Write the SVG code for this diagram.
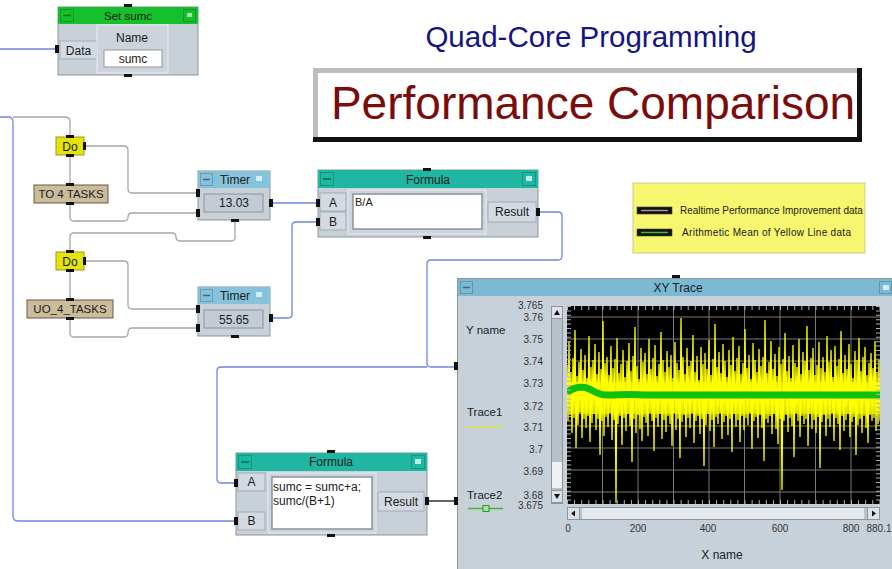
<svg xmlns="http://www.w3.org/2000/svg" width="892" height="569" viewBox="0 0 892 569">
<defs>
<style>
.t{font-family:"Liberation Sans",Arial,sans-serif;fill:#1b1b1b}
.s12{font-size:12px}
.s11{font-size:11.5px}
.mid{text-anchor:middle}
.body{fill:#c8d0d8;stroke:#8d969f;stroke-width:1}
.lbl{fill:#d3dae1;stroke:#9aa4ad;stroke-width:0.8}
.wire{fill:none;stroke:#6e86e2;stroke-width:1.3}
.ctl{fill:none;stroke:#a6a6a6;stroke-width:1.3}
.blk{fill:none;stroke:#111;stroke-width:1.3}
.port{fill:#111}
.btn{fill:none;stroke:rgba(0,0,0,0.2);stroke-width:1}
.grid{stroke:#7a7a7a;stroke-width:1}
.ax{font-family:"Liberation Sans",Arial,sans-serif;font-size:10px;fill:#333;text-anchor:end}
.axm{font-family:"Liberation Sans",Arial,sans-serif;font-size:10px;fill:#333;text-anchor:middle}
.ttl-timer{fill:#86c3db}
.ttl-form{fill:#1fb7a2}
.disp{fill:#c3ccd5;stroke:#8a949e;stroke-width:1}
.area{fill:#fff;stroke:#8a949e;stroke-width:1.5}
</style>
<clipPath id="plot"><rect x="567" y="306" width="313" height="198"/></clipPath>
</defs>
<rect x="0" y="0" width="892" height="569" fill="#ffffff"/>

<!-- Titles -->
<text x="591" y="47" font-family="Liberation Sans, Arial, sans-serif" font-size="29.5" fill="#141482" text-anchor="middle">Quad-Core Programming</text>
<g id="title-box">
<rect x="313" y="68" width="549" height="74" fill="#ffffff"/>
<rect x="313" y="68" width="549" height="5" fill="#bdbdbd"/>
<rect x="313" y="68" width="5" height="74" fill="#bdbdbd"/>
<rect x="313" y="137" width="549" height="5" fill="#111"/>
<rect x="857" y="68" width="5" height="74" fill="#111"/>
<text x="593" y="119" font-family="Liberation Sans, Arial, sans-serif" font-size="46" fill="#7a0c0c" text-anchor="middle">Performance Comparison</text>
</g>

<!-- Connectors -->
<g id="connectors">
<path class="wire" d="M0,49 H58"/>
<path class="wire" d="M0,117 H8 Q13,117 13,122 V516 Q13,521 18,521 H236"/>
<path class="ctl" d="M13,117 H65 Q70,117 70,122 V137"/>
<path class="ctl" d="M84,146 H124 Q128,146 128,150 V189 Q128,193 132,193 H198"/>
<path class="ctl" d="M70,156 V185"/>
<path class="ctl" d="M70,203 V217 Q70,221 74,221 H124 Q128,221 128,217 Q128,213 132,213 H198"/>
<path class="ctl" d="M235,220 V237 Q235,241 231,241 H180 Q176,241 176,237 Q176,233 172,233 H74 Q70,233 70,237 V252"/>
<path class="ctl" d="M84,261 H124 Q128,261 128,265 V305 Q128,309 132,309 H198"/>
<path class="ctl" d="M70,270 V300"/>
<path class="ctl" d="M70,318 V333 Q70,337 74,337 H124 Q128,337 128,333 Q128,328 132,328 H198"/>
<path class="wire" d="M271,203 H318"/>
<path class="wire" d="M271,318 H288 Q292,318 292,314 V226 Q292,222 296,222 H318"/>
<path class="wire" d="M538,212 H558 Q562,212 562,216 V256 Q562,260 558,260 H431 Q427,260 427,264 V363 Q427,367 431,367 H457"/>
<path class="wire" d="M427,367 H221 Q217,367 217,371 V479 Q217,483 221,483 H236"/>
<path class="blk" d="M427,501 H457"/>
</g>

<!-- Set sumc -->
<g id="set-sumc">
<rect class="body" x="58" y="7" width="140" height="68"/>
<rect x="58" y="7" width="140" height="17" fill="#16c02c"/>
<rect class="btn" x="60.5" y="9.5" width="13" height="12"/>
<line x1="63" y1="15.5" x2="71" y2="15.5" stroke="#0a7a18" stroke-width="1.5"/>
<rect class="btn" x="183.5" y="9.5" width="12" height="12"/>
<rect x="187" y="13" width="5" height="4" fill="#9fe3a8"/>
<text class="t s11 mid" x="128" y="20" fill="#123a12">Set sumc</text>
<rect class="lbl" x="60" y="41" width="37" height="18"/>
<text class="t s12 mid" x="78.5" y="54.5">Data</text>
<rect x="97" y="25" width="71" height="48" fill="#ccd3da" stroke="#eaeef2"/>
<text class="t s12 mid" x="132" y="42">Name</text>
<rect x="104" y="50" width="58" height="17" fill="#fff" stroke="#8f98a0"/>
<text class="t s12 mid" x="133" y="63">sumc</text>
<rect class="port" x="55" y="45" width="4" height="8"/>
<rect class="port" x="124" y="4" width="8" height="3"/>
<rect class="port" x="124" y="74" width="8" height="3"/>
</g>

<!-- Do 1 -->
<g id="do-1">
<rect x="56" y="137" width="28" height="18" fill="#e4e40a" stroke="#9a9a20"/>
<text class="t s12 mid" x="70" y="151">Do</text>
<rect class="port" x="66" y="135" width="8" height="3"/>
<rect class="port" x="66" y="154" width="8" height="3"/>
<rect class="port" x="83" y="142" width="3" height="8"/>
</g>
<g id="to-4-tasks">
<rect x="34" y="185" width="74" height="18" fill="#cbbc9c" stroke="#6a5a40"/>
<text class="t s11 mid" x="71" y="198">TO 4 TASKS</text>
<rect class="port" x="66" y="183" width="8" height="3"/>
<rect class="port" x="66" y="202" width="8" height="3"/>
</g>
<!-- Do 2 -->
<g id="do-2">
<rect x="56" y="252" width="28" height="18" fill="#e4e40a" stroke="#9a9a20"/>
<text class="t s12 mid" x="70" y="266">Do</text>
<rect class="port" x="66" y="250" width="8" height="3"/>
<rect class="port" x="66" y="269" width="8" height="3"/>
<rect class="port" x="83" y="257" width="3" height="8"/>
</g>
<g id="uo-4-tasks">
<rect x="27" y="300" width="86" height="18" fill="#cbbc9c" stroke="#6a5a40"/>
<text class="t s11 mid" x="70" y="313">UO_4_TASKS</text>
<rect class="port" x="66" y="298" width="8" height="3"/>
<rect class="port" x="66" y="317" width="8" height="3"/>
</g>

<!-- Timer 1 -->
<g id="timer-1">
<rect class="body" x="198" y="171" width="72" height="49"/>
<rect class="ttl-timer" x="198" y="171" width="72" height="17"/>
<rect class="btn" x="200.5" y="173.5" width="12" height="12"/>
<line x1="203" y1="179.5" x2="210" y2="179.5" stroke="#3a6a80" stroke-width="1.5"/>
<rect x="256" y="176" width="6" height="5" fill="#d6ecf5"/>
<text class="t s12 mid" x="235" y="184">Timer</text>
<rect class="disp" x="204" y="194" width="59" height="18"/>
<text class="t s12 mid" x="234" y="207">13.03</text>
<rect class="port" x="196" y="189" width="4" height="8"/>
<rect class="port" x="196" y="209" width="4" height="8"/>
<rect class="port" x="269" y="199" width="4" height="8"/>
<rect class="port" x="231" y="219" width="8" height="3"/>
</g>
<!-- Timer 2 -->
<g id="timer-2">
<rect class="body" x="198" y="287" width="72" height="49"/>
<rect class="ttl-timer" x="198" y="287" width="72" height="17"/>
<rect class="btn" x="200.5" y="289.5" width="12" height="12"/>
<line x1="203" y1="295.5" x2="210" y2="295.5" stroke="#3a6a80" stroke-width="1.5"/>
<rect x="256" y="292" width="6" height="5" fill="#d6ecf5"/>
<text class="t s12 mid" x="235" y="300">Timer</text>
<rect class="disp" x="204" y="310" width="59" height="18"/>
<text class="t s12 mid" x="234" y="324">55.65</text>
<rect class="port" x="196" y="305" width="4" height="8"/>
<rect class="port" x="196" y="324" width="4" height="8"/>
<rect class="port" x="269" y="314" width="4" height="8"/>
<rect class="port" x="231" y="335" width="8" height="3"/>
</g>

<!-- Formula 1 -->
<g id="formula-1">
<rect class="body" x="318" y="170" width="220" height="67"/>
<rect class="ttl-form" x="318" y="170" width="220" height="18"/>
<rect class="btn" x="320.5" y="172.5" width="13" height="13"/>
<line x1="323" y1="179" x2="331" y2="179" stroke="#0e6a5c" stroke-width="1.5"/>
<rect class="btn" x="522.5" y="172.5" width="13" height="13"/>
<rect x="526" y="176" width="6" height="5" fill="#bfeee6"/>
<text class="t s12 mid" x="428" y="184">Formula</text>
<rect class="lbl" x="320" y="193" width="26" height="18"/>
<text class="t s12 mid" x="333" y="207">A</text>
<rect class="lbl" x="320" y="212" width="26" height="18"/>
<text class="t s12 mid" x="333" y="226">B</text>
<rect x="348" y="190" width="138" height="44" fill="#cdd4db" stroke="#e6ebef"/>
<rect class="area" x="353" y="194" width="129" height="35"/>
<text class="t" font-size="11" x="355" y="206">B/A</text>
<rect class="lbl" x="488" y="202" width="48" height="20"/>
<text class="t s12 mid" x="512" y="216">Result</text>
<rect class="port" x="316" y="199" width="4" height="8"/>
<rect class="port" x="316" y="218" width="4" height="8"/>
<rect class="port" x="536" y="208" width="4" height="8"/>
<rect class="port" x="423" y="168" width="8" height="3"/>
<rect class="port" x="423" y="236" width="8" height="3"/>
</g>

<!-- Formula 2 -->
<g id="formula-2">
<rect class="body" x="236" y="453" width="191" height="82"/>
<rect class="ttl-form" x="236" y="453" width="191" height="18"/>
<rect class="btn" x="238.5" y="455.5" width="13" height="13"/>
<line x1="241" y1="462" x2="249" y2="462" stroke="#0e6a5c" stroke-width="1.5"/>
<rect class="btn" x="411.5" y="455.5" width="13" height="13"/>
<rect x="415" y="459" width="6" height="5" fill="#bfeee6"/>
<text class="t s12 mid" x="331" y="466">Formula</text>
<rect class="lbl" x="238" y="473" width="27" height="18"/>
<text class="t s12 mid" x="251.5" y="486">A</text>
<rect class="lbl" x="238" y="512" width="27" height="18"/>
<text class="t s12 mid" x="251.5" y="525">B</text>
<rect x="268" y="473" width="108" height="60" fill="#cdd4db" stroke="#e6ebef"/>
<rect class="area" x="272" y="477" width="100" height="52"/>
<text class="t" font-size="12" x="273" y="491">sumc = sumc+a;</text>
<text class="t" font-size="12" x="273" y="505">sumc/(B+1)</text>
<rect class="lbl" x="378" y="492" width="46" height="19"/>
<text class="t s12 mid" x="401" y="506">Result</text>
<rect class="port" x="234" y="479" width="4" height="8"/>
<rect class="port" x="234" y="517" width="4" height="8"/>
<rect class="port" x="425" y="497" width="4" height="8"/>
<rect class="port" x="327" y="450" width="8" height="3"/>
<rect class="port" x="327" y="534" width="8" height="3"/>
</g>

<!-- Legend -->
<g id="legend">
<rect x="633" y="183" width="232" height="70" fill="#f6f66f" stroke="#cfc88a"/>
<rect x="637" y="207" width="35" height="7" fill="#111" stroke="#444" stroke-width="0.6"/>
<line x1="641" y1="210.5" x2="668" y2="210.5" stroke="#9a9a86" stroke-width="1.5"/>
<text class="t" font-size="10" x="680" y="213.5" fill="#222">Realtime Performance Improvement data</text>
<rect x="637" y="229" width="35" height="7" fill="#111" stroke="#444" stroke-width="0.6"/>
<line x1="641" y1="232.5" x2="668" y2="232.5" stroke="#38c038" stroke-width="1.5"/>
<text class="t" font-size="10" x="682" y="236" fill="#222" textLength="169" lengthAdjust="spacing">Arithmetic Mean of Yellow Line data</text>
</g>

<!-- XY Trace -->
<g id="xy-trace">
<rect x="457.5" y="278.5" width="440" height="295" fill="#c7d1da" stroke="#8d969f"/>
<rect x="458" y="279" width="440" height="17" fill="#7cbad3"/>
<rect class="btn" x="460.5" y="281.5" width="12" height="12"/>
<line x1="463" y1="287.5" x2="470" y2="287.5" stroke="#3a6a80" stroke-width="1.5"/>
<rect class="btn" x="879.5" y="281.5" width="12" height="12"/>
<rect x="883" y="285" width="6" height="5" fill="#d6ecf5"/>
<text class="t s12 mid" x="678" y="292">XY Trace</text>
<rect class="port" x="672" y="275" width="8" height="3"/>
<rect class="port" x="454" y="362" width="4" height="8"/>
<rect class="port" x="454" y="497" width="4" height="8"/>

<text class="t" font-size="11.5" x="466" y="334">Y name</text>
<text class="t" font-size="11.5" x="467" y="416">Trace1</text>
<line x1="467" y1="427" x2="503" y2="427" stroke="#e2e24a" stroke-width="1.5"/>
<text class="t" font-size="11.5" x="467" y="499">Trace2</text>
<line x1="468" y1="508.5" x2="503" y2="508.5" stroke="#3cb83c" stroke-width="1.5"/>
<rect x="483" y="505.5" width="6" height="6" fill="#a8e0a8" stroke="#2a9a2a"/>

<text class="ax" x="543" y="309">3.765</text>
<text class="ax" x="543" y="321">3.76</text>
<text class="ax" x="543" y="343">3.75</text>
<text class="ax" x="543" y="365">3.74</text>
<text class="ax" x="543" y="387">3.73</text>
<text class="ax" x="543" y="410">3.72</text>
<text class="ax" x="543" y="431">3.71</text>
<text class="ax" x="543" y="453">3.7</text>
<text class="ax" x="543" y="475">3.69</text>
<text class="ax" x="543" y="499">3.68</text>
<text class="ax" x="543" y="509">3.675</text>

<!-- vertical scrollbar -->
<rect x="551.5" y="306.5" width="11" height="197" fill="#b8c1c9" stroke="#8d969f"/>
<rect x="551.5" y="306.5" width="11" height="12" fill="#dce2e7" stroke="#8d969f"/>
<path d="M554,315 L560,315 L557,310 Z" fill="#111"/>
<rect x="552" y="462" width="10" height="26" fill="#eef1f4"/>
<rect x="551.5" y="490.5" width="11" height="12" fill="#dce2e7" stroke="#8d969f"/>
<path d="M554,494 L560,494 L557,499 Z" fill="#111"/>

<!-- horizontal scrollbar -->
<rect x="567.5" y="507.5" width="312" height="12" fill="#bcc5cc" stroke="#8d969f"/>
<rect x="582" y="508" width="282" height="11" fill="#e4e9ed"/>
<rect x="567.5" y="507.5" width="12" height="12" fill="#dce2e7" stroke="#8d969f"/>
<path d="M575,510.5 L575,516.5 L571,513.5 Z" fill="#111"/>
<rect x="867.5" y="507.5" width="12" height="12" fill="#dce2e7" stroke="#8d969f"/>
<path d="M872,510.5 L872,516.5 L876,513.5 Z" fill="#111"/>

<text class="axm" x="568" y="532">0</text>
<text class="axm" x="638" y="532">200</text>
<text class="axm" x="708" y="532">400</text>
<text class="axm" x="780" y="532">600</text>
<text class="axm" x="851" y="532">800</text>
<text class="axm" x="879" y="532">880.1</text>
<text class="t s12 mid" x="722" y="559">X name</text>

<!-- plot -->
<rect x="567" y="306" width="313" height="198" fill="#000"/>
<g class="grid">
<line x1="602.5" y1="306" x2="602.5" y2="504"/>
<line x1="638" y1="306" x2="638" y2="504"/>
<line x1="673.5" y1="306" x2="673.5" y2="504"/>
<line x1="709" y1="306" x2="709" y2="504"/>
<line x1="744.5" y1="306" x2="744.5" y2="504"/>
<line x1="780" y1="306" x2="780" y2="504"/>
<line x1="815.5" y1="306" x2="815.5" y2="504"/>
<line x1="851" y1="306" x2="851" y2="504"/>
<line x1="567" y1="317" x2="880" y2="317"/>
<line x1="567" y1="339" x2="880" y2="339"/>
<line x1="567" y1="361" x2="880" y2="361"/>
<line x1="567" y1="383" x2="880" y2="383"/>
<line x1="567" y1="404.5" x2="880" y2="404.5"/>
<line x1="567" y1="426" x2="880" y2="426"/>
<line x1="567" y1="448" x2="880" y2="448"/>
<line x1="567" y1="470" x2="880" y2="470"/>
<line x1="567" y1="492" x2="880" y2="492"/>
</g>
<g clip-path="url(#plot)">
<rect x="567" y="382" width="313" height="32" fill="#ffff00" opacity="0.55"/>
<polyline fill="none" stroke="#ffff00" stroke-width="1.3" points="567,365 568,421 569,341 570,415 571,372 572,433 573,358 574,418 575,330 576,448 577,376 578,425 579,362 580,412 581,349 582,438 583,370 584,419 585,355 586,428 587,378 588,416 589,336 590,442 591,367 592,423 593,360 594,414 595,344 596,430 597,374 598,419 599,352 600,455 601,369 602,421 603,321 604,436 605,363 606,417 607,357 608,427 609,375 610,413 611,346 612,440 613,368 614,420 615,359 616,503 617,338 618,424 619,373 620,416 621,364 622,445 623,350 624,418 625,377 626,431 627,361 628,414 629,343 630,426 631,371 632,462 633,356 634,419 635,327 636,433 637,366 638,415 639,379 640,429 641,348 642,441 643,362 644,417 645,353 646,423 647,374 648,436 649,339 650,413 651,369 652,421 653,358 654,451 655,345 656,418 657,376 658,427 659,364 660,414 661,332 662,439 663,360 664,420 665,372 666,432 667,351 668,416 669,367 670,424 671,355 672,446 673,378 674,413 675,342 676,430 677,363 678,419 679,370 680,458 681,318 682,422 683,357 684,415 685,374 686,437 687,348 688,418 689,366 690,428 691,361 692,413 693,335 694,443 695,372 696,421 697,356 698,416 699,380 700,434 701,347 702,419 703,364 704,466 705,353 706,425 707,369 708,414 709,340 710,431 711,375 712,420 713,359 714,447 715,324 716,417 717,367 718,424 719,352 720,413 721,373 722,439 723,344 724,422 725,361 726,416 727,377 728,435 729,350 730,419 731,365 732,452 733,337 734,414 735,371 736,427 737,358 738,420 739,346 740,442 741,374 742,416 743,363 744,430 745,329 746,418 747,368 748,425 749,355 750,413 751,379 752,449 753,343 754,421 755,360 756,417 757,372 758,438 759,349 760,415 761,366 762,428 763,357 764,461 765,320 766,419 767,373 768,423 769,362 770,416 771,341 772,434 773,369 774,414 775,354 776,429 777,376 778,444 779,347 780,419 781,364 782,490 783,359 784,421 785,333 786,415 787,371 788,432 789,356 790,418 791,378 792,426 793,345 794,457 795,363 796,413 797,367 798,421 799,339 800,437 801,374 802,416 803,352 804,424 805,361 806,419 807,326 808,446 809,370 810,414 811,358 812,429 813,348 814,420 815,375 816,433 817,365 818,417 819,342 820,468 821,368 822,422 823,357 824,415 825,372 826,436 827,336 828,419 829,362 830,427 831,350 832,413 833,377 834,441 835,346 836,418 837,366 838,424 839,359 840,450 841,331 842,416 843,373 844,431 845,355 846,420 847,369 848,414 849,344 850,437 851,364 852,422 853,378 854,417 855,351 856,455 857,360 858,425 859,338 860,419 861,371 862,433 863,357 864,416 865,347 866,428 867,375 868,443 869,363 870,415 871,353 872,421 873,368 874,418 875,341 876,431 877,372 878,424 879,360 880,420"/>
<path d="M567,393 C572,388 578,386.5 585,387.5 C592,388.5 596,395 606,395 C620,395 630,394 645,395 H880" fill="none" stroke="#10c010" stroke-width="7"/>
</g>
<line x1="567" y1="308" x2="880" y2="308" stroke="#b0b0b0" stroke-width="4" stroke-dasharray="1 6.1"/>
<line x1="567" y1="502" x2="880" y2="502" stroke="#b0b0b0" stroke-width="4" stroke-dasharray="1 6.1"/>
<line x1="569" y1="306" x2="569" y2="504" stroke="#b0b0b0" stroke-width="4" stroke-dasharray="1 3.4"/>
<line x1="878" y1="306" x2="878" y2="504" stroke="#b0b0b0" stroke-width="4" stroke-dasharray="1 3.4"/>
</g>
</svg>
